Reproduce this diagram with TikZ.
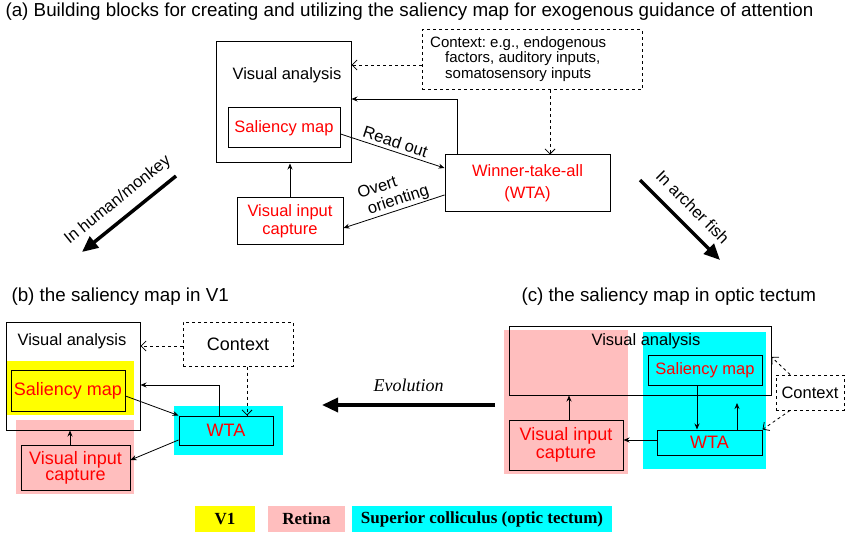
\documentclass[tikz,border=0pt]{standalone}
\usepackage{fontspec}
\setmainfont{Liberation Sans}
\newfontfamily\serifrm{Liberation Serif}
\usetikzlibrary{arrows.meta,positioning,calc}
\definecolor{salyellow}{RGB}{255,255,0}
\definecolor{retpink}{RGB}{255,190,190}
\definecolor{sccyan}{RGB}{0,255,255}
\tikzset{
  blk/.style={draw, line width=1pt, minimum width=#1, inner sep=2pt, align=center},
  red/.style={text=red},
  link/.style={-{Stealth[length=6pt,width=5pt]}, line width=0.8pt},
  dlink/.style={-{Straight Barb[length=5pt]}, line width=0.8pt, dashed},
  big/.style={-{Triangle[length=16pt,width=14pt]}, line width=3.5pt},
  bigr/.style={{Triangle[length=16pt,width=14pt]}-, line width=3.5pt},
  ttl/.style={anchor=west, font=\fontsize{18.8}{21}\selectfont}
}
\begin{document}
\begin{tikzpicture}[x=1pt,y=-1pt, font=\fontsize{16.5}{18}\selectfont]
\useasboundingbox (0,0) rectangle (850,534);

% (a) building blocks
\node[ttl] (ta) at (2,12) {(a) Building blocks for creating and utilizing the saliency map for exogenous guidance of attention};
\node[draw, line width=1pt, minimum width=135pt, minimum height=121pt] (va) at (283.5,102.5) {};
\node (vat) at (287,75) {Visual analysis};
\node[blk=112pt, minimum height=40pt, red] (sm) at (284,128) {Saliency map};
\node[draw, line width=1pt, dashed, minimum width=220pt, minimum height=60pt] (ctx) at (532,60) {};
\node[align=left, anchor=north west, inner sep=0pt, font=\fontsize{15}{15.5}\selectfont] (ctxt) at (430,36)
  {Context:\ e.g., endogenous\\ \quad factors, auditory inputs,\\ \quad somatosensory inputs};
\node[blk=165pt, minimum height=57pt, red] (wta) at (527.5,183.5) {Winner-take-all\\[4pt](WTA)};
\node[blk=106pt, minimum height=47pt, red] (vic) at (290,221.5) {Visual input\\capture};
\draw[dlink] (ctx.west|-0,65) -- (va.east|-0,65);
\draw[dlink] (ctx.south-|550,0) -- (wta.north-|550,0);
\draw[link] (wta.north-|457,0) |- (va.east|-0,99);
\draw[link] (sm.east|-0,134) -- node[above, sloped, pos=0.5] {Read out} (wta.west|-0,168);
\draw[link] (wta.west|-0,195) -- node[above, sloped, pos=0.45, align=left, inner sep=1pt] {Overt\\ \ orienting} (vic.east|-0,228);
\draw[link] (vic.north) -- (va.south-|vic.north);

% big arrows
\coordinate (hmA) at (176,176); \coordinate (hmB) at (82,252);
\draw[bigr] (hmB) -- node[above=5pt, sloped] {In human/monkey} (hmA);
\coordinate (afA) at (640,180); \coordinate (afB) at (720,260);
\draw[big] (afA) -- node[above=7pt, sloped] {In archer fish} (afB);

% (b) V1
\node[ttl] (tb) at (8,297) {(b) the saliency map in V1};
\fill[salyellow] (7,361) rectangle (134,415);
\fill[retpink] (16,420) rectangle (134,494);
\fill[sccyan] (174,406) rectangle (283,455);
\node[draw, line width=1pt, minimum width=134pt, minimum height=108pt] (vab) at (73,376) {};
\node (vabt) at (72,341) {Visual analysis};
\node[blk=114pt, minimum height=41pt, red, font=\fontsize{18}{20}\selectfont] (smb) at (68,390.5) {Saliency map};
\node[draw, line width=1pt, dashed, minimum width=110pt, minimum height=44pt, font=\fontsize{18}{20}\selectfont] (ctxb) at (238,344) {Context};
\node[blk=94pt, minimum height=29pt, red, font=\fontsize{18}{20}\selectfont] (wtab) at (226,430.5) {WTA};
\node[blk=109pt, minimum height=45pt, red, font=\fontsize{18}{16}\selectfont] (vicb) at (75.5,467.5) {Visual input\\capture};
\draw[dlink] (ctxb.west|-0,346) -- (vab.east|-0,346);
\draw[dlink] (ctxb.south-|247,0) -- (wtab.north-|247,0);
\draw[link] (wtab.north-|219,0) |- (vab.east|-0,385);
\draw[link] (smb.east|-0,396) -- (wtab.north west);
\draw[link] (wtab.west|-0,440) -- (vicb.east|-0,460);
\draw[link] (vicb.north-|70,0) -- (vab.south-|70,0);

% evolution
\coordinate (evA) at (495,405); \coordinate (evB) at (322,405);
\draw[big] (evA) -- node[above=8pt, font=\serifrm\itshape\fontsize{18}{20}\selectfont] {Evolution} (evB);

% (c) optic tectum
\node[ttl] (tc) at (518,297) {(c) the saliency map in optic tectum};
\fill[retpink] (504,330) rectangle (628,474);
\fill[sccyan] (643,332) rectangle (766,469);
\node[draw, line width=1pt, minimum width=262pt, minimum height=69pt] (vac) at (640,360.5) {};
\node (vact) at (646,341) {Visual analysis};
\node[blk=114pt, minimum height=30pt, red] (smc) at (705,370) {Saliency map};
\node[blk=105pt, minimum height=25pt, red, font=\fontsize{18}{20}\selectfont] (wtac) at (709.5,442.5) {WTA};
\node[blk=114pt, minimum height=50pt, red, font=\fontsize{18}{18}\selectfont] (vicc) at (566,445) {Visual input\\capture};
\node[draw, line width=1pt, dashed, minimum width=68pt, minimum height=35pt, inner sep=1pt] (ctxc) at (810,392.5) {Context};
\draw[link] (smc.south-|697,0) -- (wtac.north-|697,0);
\coordinate (upc) at (737,403);
\draw[link] (wtac.north-|737,0) -- (upc);
\draw[link] (wtac.west|-0,440) -- (vicc.east|-0,440);
\draw[link] (vicc.north-|569,0) -- (vac.south-|569,0);
\draw[dlink] (ctxc.north-|790,0) -- (vac.east|-0,357);
\draw[dlink] (ctxc.south-|790,0) -- (wtac.north east);

% legend
\tikzset{leg/.style={font=\serifrm\bfseries\fontsize{17}{19}\selectfont, minimum height=26pt, inner sep=3pt}}
\node[leg, fill=salyellow, minimum width=60pt] (lv1) at (225,519) {V1};
\node[leg, fill=retpink, minimum width=77pt] (lret) at (306.5,519) {Retina};
\node[leg, fill=sccyan, minimum width=260pt] (lsc) at (482,519) {Superior colliculus (optic tectum)};
\end{tikzpicture}
\end{document}
